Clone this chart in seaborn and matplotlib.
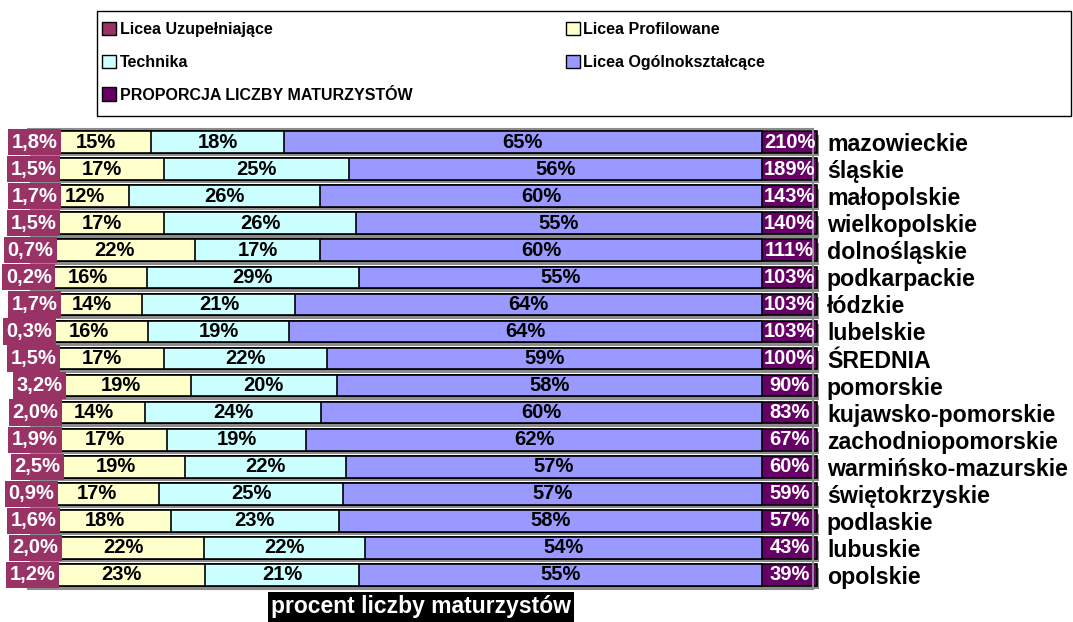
import numpy as np
import pandas as pd
import matplotlib.pyplot as plt
import matplotlib.patheffects as pe
from matplotlib.patches import Patch, Rectangle
import seaborn as sns

# data (top to bottom)
regions = ['mazowieckie', 'śląskie', 'małopolskie', 'wielkopolskie', 'dolnośląskie',
           'podkarpackie', 'łódzkie', 'lubelskie', 'ŚREDNIA', 'pomorskie',
           'kujawsko-pomorskie', 'zachodniopomorskie', 'warmińsko-mazurskie',
           'świętokrzyskie', 'podlaskie', 'lubuskie', 'opolskie']
uzupelniajace = [1.8, 1.5, 1.7, 1.5, 0.7, 0.2, 1.7, 0.3, 1.5, 3.2, 2.0, 1.9, 2.5, 0.9, 1.6, 2.0, 1.2]
profilowane = [15, 17, 12, 17, 22, 16, 14, 16, 17, 19, 14, 17, 19, 17, 18, 22, 23]
technika = [18, 25, 26, 26, 17, 29, 21, 19, 22, 20, 24, 19, 22, 25, 23, 22, 21]
ogolnoksztalcace = [65, 56, 60, 55, 60, 55, 64, 64, 59, 58, 60, 62, 57, 57, 58, 54, 55]
proporcja = [210, 189, 143, 140, 111, 103, 103, 103, 100, 90, 83, 67, 60, 59, 57, 43, 39]

series = ['LU', 'LP', 'T', 'LO']
names = {'LU': 'Licea Uzupełniające', 'LP': 'Licea Profilowane',
         'T': 'Technika', 'LO': 'Licea Ogólnokształcące'}
colors = {'LU': '#993366', 'LP': '#FFFFCC', 'T': '#CCFFFF', 'LO': '#9999FF'}
prop_color = '#660066'
prop_name = 'PROPORCJA LICZBY MATURZYSTÓW'
PROP_CELL = 7.6   # width of the proportion cell at the end of each bar

sns.set_style('white')
plt.rcParams['font.family'] = ['Liberation Sans', 'DejaVu Sans']
plt.rcParams['font.weight'] = 'bold'
plt.rcParams['text.color'] = 'black'
plt.rcParams['ytick.color'] = 'black'

df = pd.DataFrame({'region': regions, 'LU': uzupelniajace, 'LP': profilowane,
                   'T': technika, 'LO': ogolnoksztalcace, 'prop': proporcja})
share = df[series].div(df[series].sum(axis=1), axis=0) * 100   # 100% stacked
cum = share.cumsum(axis=1)

fig = plt.figure(figsize=(10.73, 6.22), dpi=100)
ax = fig.add_axes([28 / 1073, 33.5 / 622, 785 / 1073, 460 / 622])

bar_kw = dict(orient='h', saturation=1, width=0.8, edgecolor='black', linewidth=1.2, ax=ax)

# widest layer first: proportion cell, then overlapping cumulative sums
sns.barplot(x=np.full(len(df), 100 + PROP_CELL), y=df['region'], color=prop_color,
            clip_on=False, **bar_kw)
for p in ax.patches:
    p.set_path_effects([pe.SimplePatchShadow(offset=(1.5, -2.5), shadow_rgbFace='0.55', alpha=1),
                        pe.Normal()])
for s in reversed(series):
    sns.barplot(x=cum[s], y=df['region'], color=colors[s], **bar_kw)

# labels
fs = 14.5
for i in range(len(df)):
    lu = df['LU'][i]
    ax.text(lu / 2, i, f'{lu:.1f}'.replace('.', ',') + '%', ha='center', va='center',
            color='white', fontsize=fs, zorder=6, clip_on=False,
            bbox=dict(boxstyle='square,pad=0.18', fc=colors['LU'], ec='none'))
    for s in ['LP', 'T', 'LO']:
        ax.text(cum[s][i] - share[s][i] / 2, i, f'{df[s][i]:.0f}%', ha='center',
                va='center', color='black', fontsize=fs, zorder=5)
    ax.text(100 + PROP_CELL / 2, i, f'{df["prop"][i]}%', ha='center', va='center',
            color='white', fontsize=fs, zorder=5, clip_on=False)

ax.set_xlim(0, 107)
ax.set_ylim(len(df) - 0.5, -0.5)
ax.set_xticks([])
ax.set_xlabel('')
ax.set_ylabel('')
ax.yaxis.tick_right()
ax.tick_params(axis='y', length=0, pad=10, labelsize=16.7, labelcolor='black')
for lab in ax.get_yticklabels():
    lab.set_fontweight('bold')
ax.spines['left'].set_visible(False)
for side in ['top', 'right', 'bottom']:
    ax.spines[side].set_color('0.55')
    ax.spines[side].set_linewidth(1.5)

# legend (row-wise order as in the original)
order = ['LU', 'T', None, 'LP', 'LO']
handles, labels = [], []
for s in order:
    if s is None:
        handles.append(Patch(facecolor=prop_color, edgecolor='black', linewidth=1))
        labels.append(prop_name)
    else:
        handles.append(Patch(facecolor=colors[s], edgecolor='black', linewidth=1))
        labels.append(names[s])
leg = fig.legend(handles, labels, loc='upper left', bbox_to_anchor=(102 / 1073, 1 - 22 / 622),
                 ncol=2, frameon=False,
                 prop=dict(family=['Liberation Sans', 'DejaVu Sans'], weight='bold', size=11.5),
                 handlelength=0.9, handleheight=0.9, handletextpad=0.2, labelspacing=1.1,
                 columnspacing=9.6, borderpad=0, borderaxespad=0)
for t in leg.get_texts():
    t.set_color('black')
fig.add_artist(Rectangle((97 / 1073, 1 - 116 / 622), (1071 - 97) / 1073, 105 / 622,
                         transform=fig.transFigure, fill=False, ec='black', lw=1))

fig.text(421 / 1073, 15 / 622, 'procent liczby maturzystów', ha='center', va='center',
         color='white', fontsize=16.5,
         bbox=dict(boxstyle='square,pad=0.15', fc='black', ec='none'))

fig.savefig('out.png', dpi=100)
